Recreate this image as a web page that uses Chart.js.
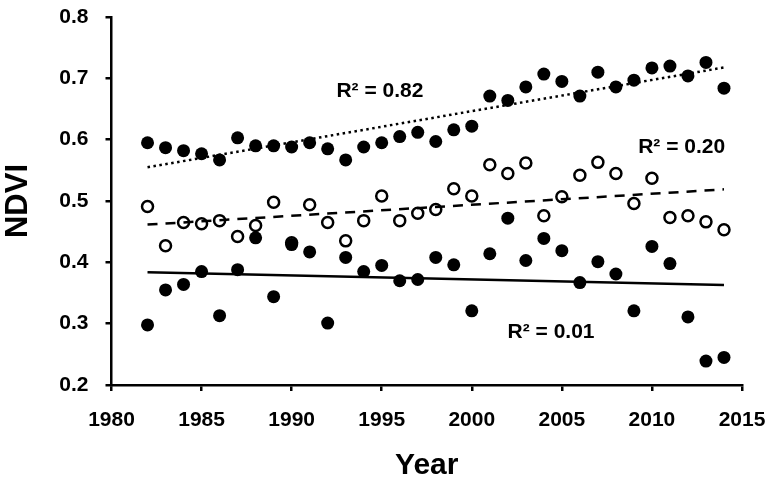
<!DOCTYPE html>
<html>
<head>
<meta charset="utf-8">
<script src="https://cdn.jsdelivr.net/npm/chart.js@4.4.0/dist/chart.umd.min.js"></script>
<style>
  body { margin: 0; background: #fff; }
</style>
</head>
<body>
<canvas id="ndviChart" width="778" height="487"></canvas>
<script>
// years 1982 - 2014
const years = [1982, 1983, 1984, 1985, 1986, 1987, 1988, 1989, 1990, 1991, 1992,
  1993, 1994, 1995, 1996, 1997, 1998, 1999, 2000, 2001, 2002, 2003, 2004, 2005,
  2006, 2007, 2008, 2009, 2010, 2011, 2012, 2013, 2014];

// upper series (filled dots, dotted trend)
const ndviHigh = [0.595, 0.587, 0.582, 0.577, 0.567, 0.603, 0.590, 0.590, 0.588, 0.595, 0.585,
  0.567, 0.588, 0.595, 0.605, 0.612, 0.597, 0.616, 0.622, 0.671, 0.664, 0.686, 0.707, 0.695,
  0.671, 0.710, 0.686, 0.697, 0.717, 0.720, 0.704, 0.726, 0.684];

// middle series (open circles, dashed trend)
const ndviMid = [0.491, 0.427, 0.465, 0.463, 0.468, 0.442, 0.460, 0.498, 0.432, 0.494, 0.465,
  0.435, 0.468, 0.508, 0.468, 0.480, 0.486, 0.520, 0.508, 0.559, 0.545, 0.562, 0.476, 0.507,
  0.542, 0.563, 0.545, 0.496, 0.537, 0.473, 0.476, 0.466, 0.453];

// lower series (filled dots, solid trend)
const ndviLow = [0.298, 0.355, 0.364, 0.385, 0.313, 0.388, 0.440, 0.344, 0.429, 0.417, 0.301,
  0.408, 0.385, 0.395, 0.370, 0.372, 0.408, 0.396, 0.321, 0.414, 0.472, 0.403, 0.439, 0.419,
  0.367, 0.401, 0.381, 0.321, 0.426, 0.398, 0.311, 0.239, 0.245];

const xTicks = [1980, 1985, 1990, 1995, 2000, 2005, 2010, 2015];
const yTicks = [0.2, 0.3, 0.4, 0.5, 0.6, 0.7, 0.8];
const r2Labels = ['R\u00B2 = 0.82', 'R\u00B2 = 0.20', 'R\u00B2 = 0.01'];

const FONT = "'Liberation Sans', Arial, sans-serif";

function toPoints(xs, ys) {
  return xs.map((x, i) => ({ x: x, y: ys[i] }));
}

// least squares trend line between first and last year
function trendLine(xs, ys) {
  const n = xs.length;
  const mx = xs.reduce((a, b) => a + b, 0) / n;
  const my = ys.reduce((a, b) => a + b, 0) / n;
  let sxy = 0, sxx = 0;
  for (let i = 0; i < n; i++) {
    sxy += (xs[i] - mx) * (ys[i] - my);
    sxx += (xs[i] - mx) * (xs[i] - mx);
  }
  const b = sxy / sxx;
  const a = my - b * mx;
  const x0 = xs[0], x1 = xs[n - 1];
  return [{ x: x0, y: a + b * x0 }, { x: x1, y: a + b * x1 }];
}

// R² labels drawn at data positions
const labelPlugin = {
  id: 'r2Labels',
  afterDatasetsDraw(chart) {
    const { ctx, scales } = chart;
    const pos = [[1994.9, 0.679], [2011.65, 0.588], [2004.4, 0.2865]];
    ctx.save();
    ctx.font = 'bold 21px ' + FONT;
    ctx.fillStyle = '#000';
    ctx.textAlign = 'center';
    ctx.textBaseline = 'middle';
    r2Labels.forEach((t, i) => {
      ctx.fillText(t, scales.x.getPixelForValue(pos[i][0]), scales.y.getPixelForValue(pos[i][1]));
    });
    ctx.restore();
  }
};

const ctx = document.getElementById('ndviChart').getContext('2d');
new Chart(ctx, {
  type: 'scatter',
  data: {
    datasets: [
      {
        data: trendLine(years, ndviHigh), showLine: true, pointRadius: 0,
        borderColor: '#000', borderWidth: 2.5, borderDash: [2.5, 3.5]
      },
      {
        data: trendLine(years, ndviMid), showLine: true, pointRadius: 0,
        borderColor: '#000', borderWidth: 2.5, borderDash: [10, 8]
      },
      {
        data: trendLine(years, ndviLow), showLine: true, pointRadius: 0,
        borderColor: '#000', borderWidth: 2.5
      },
      {
        data: toPoints(years, ndviHigh), pointRadius: 6.5,
        backgroundColor: '#000', borderColor: '#000', borderWidth: 0
      },
      {
        data: toPoints(years, ndviMid), pointRadius: 5.5,
        backgroundColor: 'rgba(0,0,0,0)', borderColor: '#000', borderWidth: 2.5
      },
      {
        data: toPoints(years, ndviLow), pointRadius: 6.5,
        backgroundColor: '#000', borderColor: '#000', borderWidth: 0
      }
    ]
  },
  options: {
    responsive: false,
    animation: false,
    events: [],
    layout: { padding: { top: 17, right: 36, left: 0, bottom: 0 } },
    plugins: {
      legend: { display: false },
      tooltip: { enabled: false }
    },
    scales: {
      x: {
        type: 'linear',
        min: 1980,
        max: 2015,
        afterFit: (scale) => {
          scale.height = 102;
          scale.paddingLeft = 0;
          scale.paddingRight = 0;
        },
        afterBuildTicks: (scale) => { scale.ticks = xTicks.map(v => ({ value: v })); },
        border: { color: '#000', width: 2.5 },
        grid: { drawOnChartArea: false, drawTicks: true, tickLength: 6, color: '#000', lineWidth: 2.5 },
        ticks: {
          padding: 17,
          color: '#000',
          font: { family: FONT, size: 21, weight: 'bold' },
          callback: (v) => String(v)
        },
        title: {
          display: true,
          text: 'Year',
          color: '#000',
          font: { family: FONT, size: 30, weight: 'bold' },
          padding: { top: 0, bottom: 3 }
        }
      },
      y: {
        min: 0.2,
        max: 0.8,
        afterFit: (scale) => {
          scale.width = 111.5;
          scale.paddingTop = 0;
          scale.paddingBottom = 0;
        },
        afterBuildTicks: (scale) => { scale.ticks = yTicks.map(v => ({ value: v })); },
        border: { color: '#000', width: 2.5 },
        grid: { drawOnChartArea: false, drawTicks: true, tickLength: 6, color: '#000', lineWidth: 2.5 },
        ticks: {
          padding: 17,
          color: '#000',
          font: { family: FONT, size: 21, weight: 'bold' },
          callback: (v) => v.toFixed(1)
        },
        title: {
          display: true,
          text: 'NDVI',
          color: '#000',
          font: { family: FONT, size: 31, weight: 'bold' },
          padding: { top: 0, bottom: 0 }
        }
      }
    }
  },
  plugins: [labelPlugin]
});
</script>
</body>
</html>
